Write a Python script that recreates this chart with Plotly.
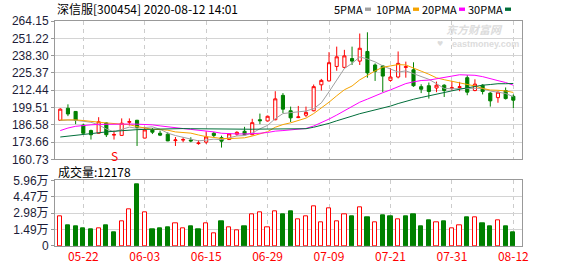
import plotly.graph_objects as go

# ---------------- data ----------------
dates = ["05-19","05-20","05-21","05-22","05-25","05-26","05-27","05-28","05-29",
         "06-01","06-02","06-03","06-04","06-05","06-08","06-09","06-10","06-11","06-12",
         "06-15","06-16","06-17","06-18","06-19","06-22","06-23","06-24","06-29","06-30",
         "07-01","07-02","07-03","07-06","07-07","07-08","07-09","07-10","07-13","07-14",
         "07-15","07-16","07-17","07-20","07-21","07-22","07-23","07-24","07-27","07-28",
         "07-29","07-30","07-31","08-03","08-04","08-05","08-06","08-07","08-10","08-11","08-12"]

opens = [190.0,199.0,196.6,186.4,182.3,180.3,188.0,178.9,178.7,188.5,
         190.0,176.7,182.8,180.3,179.6,174.8,175.2,175.2,172.6,173.7,
         180.3,177.0,175.6,179.6,181.8,179.2,190.4,189.5,190.4,208.6,
         197.1,192.0,193.8,197.1,216.5,219.4,230.2,229.5,236.1,234.2,
         241.4,231.3,230.6,219.8,222.3,229.5,227.7,215.1,215.8,214.1,
         216.2,213.8,214.5,221.8,212.2,216.2,210.3,206.9,212.2,207.9]
highs = [199.0,201.9,196.9,187.5,183.0,192.3,188.5,182.3,191.4,191.4,
         190.3,185.1,184.2,182.3,181.0,177.5,177.3,177.3,175.0,181.8,
         181.3,178.5,180.1,181.8,185.1,191.1,195.0,193.5,211.7,210.3,
         200.2,200.7,200.2,216.7,220.9,240.9,245.0,242.6,245.0,254.8,
         255.7,232.5,231.3,229.0,241.4,233.8,233.3,216.9,218.2,218.9,
         216.9,219.4,218.7,223.7,220.6,216.9,211.0,211.5,214.5,209.3]
lows = [189.5,193.1,187.1,180.0,175.6,180.0,177.5,175.6,178.5,186.1,
        170.8,176.5,179.7,178.2,174.4,170.8,173.6,173.6,171.7,172.3,
        177.2,169.6,175.3,178.4,178.8,178.8,187.1,189.0,190.0,195.4,
        188.7,191.6,192.4,196.7,212.2,219.0,227.0,228.7,231.3,231.3,
        221.8,219.4,211.0,218.8,221.3,221.8,215.0,210.3,206.2,211.0,
        207.4,212.2,211.7,208.7,211.7,209.3,200.2,203.1,205.5,199.0]
closes = [198.3,194.7,190.0,180.3,179.2,188.9,179.2,179.4,187.8,189.0,
          184.6,182.8,181.1,178.9,174.6,175.3,175.6,174.6,173.0,177.5,
          178.7,174.4,179.9,181.0,179.2,188.2,189.7,193.0,206.0,198.3,
          191.8,192.5,195.9,215.1,219.8,233.0,237.4,238.1,234.2,243.8,
          225.4,226.6,223.0,222.3,232.5,230.0,215.8,213.2,211.5,216.2,
          212.2,214.3,215.0,211.0,217.0,211.5,204.5,211.0,206.2,205.0]

ma5 = [189.8,190.2,190.0,189.2,188.5,186.6,183.5,181.4,182.9,184.9,
       184.0,184.7,185.1,183.3,180.4,178.6,177.1,175.8,174.6,175.2,
       175.9,175.6,176.7,178.3,178.6,180.5,183.6,186.2,191.2,195.0,
       195.7,196.3,196.9,198.7,203.0,211.3,220.2,228.7,232.5,237.3,
       235.8,233.6,230.6,228.2,226.0,226.9,224.7,222.8,220.6,217.3,
       213.8,213.5,213.8,213.7,213.9,213.8,211.8,211.0,210.0,207.6]
ma10 = [190.2,190.4,190.3,189.8,189.0,188.6,188.0,187.4,187.0,186.7,
        185.3,184.1,183.2,183.1,182.6,181.3,180.9,180.4,179.0,177.8,
        177.2,176.4,176.3,176.5,176.9,178.2,179.6,181.5,184.8,186.8,
        188.1,190.0,191.6,195.0,199.0,203.5,208.3,212.8,215.6,220.2,
        223.5,226.9,229.6,230.4,231.6,231.3,229.2,226.7,224.4,221.7,
        220.3,219.1,218.3,217.2,215.6,213.8,212.6,212.4,211.9,210.8]
ma20 = [182.3,184.2,185.5,186.2,186.6,186.9,187.1,187.2,187.2,187.2,
        187.1,187.0,186.6,185.8,185.0,184.4,183.8,183.2,182.7,182.3,
        181.3,180.3,179.8,179.8,179.8,179.8,180.3,180.9,181.9,182.3,
        182.7,183.2,183.9,185.7,188.0,190.9,193.9,197.1,200.2,203.5,
        205.8,208.4,210.6,212.7,215.3,217.4,218.7,219.7,220.0,220.9,
        221.9,223.0,224.0,223.8,223.6,222.6,220.9,219.6,218.2,216.2]
ma30 = [177.5,178.2,178.8,179.5,180.1,180.8,181.3,181.8,182.3,182.7,
        183.0,183.2,183.4,183.6,183.7,183.8,183.8,183.7,183.6,183.5,
        183.4,183.3,183.3,183.2,183.2,183.3,183.4,183.5,183.6,183.8,
        183.6,183.5,183.7,184.8,186.2,187.7,189.6,191.6,193.1,194.9,
        196.3,197.8,199.2,200.6,202.5,204.3,205.7,207.0,208.3,209.5,
        210.7,212.0,213.2,214.2,215.4,216.2,216.7,217.3,217.3,217.5]

# volume in 万 (10k)
volumes = [2.68,1.89,1.75,1.57,1.48,1.63,1.89,1.22,2.24,3.29,
           5.58,3.03,1.48,1.57,1.66,2.07,1.63,1.81,1.48,2.07,
           1.11,2.27,1.72,1.46,1.83,2.85,3.03,1.72,3.14,2.88,
           3.14,2.42,2.68,3.64,2.16,3.46,2.24,2.85,2.71,3.55,
           2.62,2.16,2.79,2.71,2.42,2.71,2.88,1.83,2.36,2.16,
           2.27,1.57,1.89,2.62,2.62,2.09,1.75,2.36,1.75,1.2178]
vol_up = [1,0,0,0,0,1,0,0,1,1,0,1,0,0,0,1,1,0,0,1,
          1,0,1,1,0,1,1,1,1,0,0,1,1,1,1,1,1,1,0,1,
          0,1,0,0,1,0,0,0,0,1,0,1,1,0,1,0,0,1,0,0]

tick_dates = ["05-22","06-03","06-15","06-29","07-09","07-21","07-31","08-12"]
price_ticks = [160.73,173.66,186.58,199.51,212.44,225.37,238.30,251.22,264.15]
vol_ticks = [0,1.49,2.98,4.47,5.96]
vol_tick_text = ["0","1.49万","2.98万","4.47万","5.96万"]
ma_names = ["5PMA","10PMA","20PMA","30PMA"]
last_volume_text = "12178"
marker_index = 7

# ---------------- styling ----------------
RED = "#ff0000"
GREEN = "#008000"
MA_COLORS = ["#a0a0a0", "#f5a300", "#ff00ff", "#006e3a"]
W, H = 578, 276
L, R, T, B = 55, 56, 21, 21
PW, PH = W - L - R, H - T - B
CJK = "Noto Sans CJK SC"
NUMF = "Liberation Sans, Noto Sans CJK SC"

def px(xp):
    return (xp - L) / PW

def py(yp):
    return (H - B - yp) / PH

x = list(range(len(dates)))
xr = [-0.685, len(dates) + 0.13]
tickvals = [dates.index(d) for d in tick_dates]

fig = go.Figure()

fig.add_trace(go.Candlestick(
    x=x, open=opens, high=highs, low=lows, close=closes,
    increasing=dict(line=dict(color=RED, width=1), fillcolor="white"),
    decreasing=dict(line=dict(color=GREEN, width=1), fillcolor=GREEN),
    whiskerwidth=0, xaxis="x", yaxis="y", hoverinfo="skip", showlegend=False))

for name, vals, col in zip(ma_names, [ma5, ma10, ma20, ma30], MA_COLORS):
    fig.add_trace(go.Scatter(x=x, y=vals, mode="lines", line=dict(color=col, width=1),
                             xaxis="x", yaxis="y", name=name, showlegend=False,
                             hoverinfo="skip"))

fig.add_trace(go.Bar(
    x=x, y=volumes, width=0.55,
    marker=dict(color=["white" if u else GREEN for u in vol_up],
                line=dict(color=[RED if u else GREEN for u in vol_up], width=1)),
    xaxis="x2", yaxis="y2", showlegend=False, hoverinfo="skip"))

grid_h = "#d4d4d4"
grid_v = "#cccccc"
border = "#999999"
axfont = dict(family=NUMF, size=12, color="#1c1c38")

fig.update_layout(
    width=W, height=H,
    margin=dict(l=L, r=R, t=T, b=B, pad=0),
    paper_bgcolor="white", plot_bgcolor="white",
    boxgap=0.42,
    bargap=0,
    showlegend=False,
    xaxis=dict(domain=[0, 1], range=xr, anchor="y", showticklabels=False,
               tickvals=tickvals, showgrid=True, gridcolor=grid_v, griddash="4px,4px",
               gridwidth=1, showline=True, mirror=True, linecolor=border, linewidth=1,
               zeroline=False, ticks="", rangeslider=dict(visible=False), fixedrange=True),
    yaxis=dict(domain=[1 - 144 / PH, 1], range=[price_ticks[0], price_ticks[-1]],
               tickvals=price_ticks, ticktext=[f"{v:.2f}" for v in price_ticks],
               showgrid=True, gridcolor=grid_h, gridwidth=1, showline=True, mirror=True,
               linecolor=border, linewidth=1, zeroline=False, ticks="outside",
               ticklen=3, tickcolor=border, tickfont=axfont, fixedrange=True),
    xaxis2=dict(domain=[0, 1], range=xr, anchor="y2", tickvals=tickvals,
                ticktext=tick_dates, tickfont=dict(family=CJK, size=12, color=RED),
                showgrid=True, gridcolor=grid_v, griddash="4px,4px", gridwidth=1,
                showline=True, mirror=True, linecolor=border, linewidth=1,
                zeroline=False, ticks="", fixedrange=True),
    yaxis2=dict(domain=[0, 68.3 / PH], range=[vol_ticks[0], vol_ticks[-1]],
                tickvals=vol_ticks, ticktext=vol_tick_text, showgrid=True,
                gridcolor=grid_h, gridwidth=1, showline=True, mirror=True,
                linecolor=border, linewidth=1, zeroline=False, ticks="outside",
                ticklen=3, tickcolor=border, tickfont=axfont, fixedrange=True),
)

ann = []
shapes = []
ann.append(dict(xref="paper", yref="paper", x=0, y=py(8.5), xanchor="left", yanchor="middle",
                text="深信服[300454] 2020-08-12 14:01", showarrow=False,
                font=dict(family=CJK, size=12, color="#000000")))
leg_box_x = [365, 413, 459, 505]
for name, col, bx in zip(ma_names, MA_COLORS, leg_box_x):
    ann.append(dict(xref="paper", yref="paper", x=px(bx - 1), y=py(8.5), xanchor="right",
                    yanchor="middle", text=name, showarrow=False, borderpad=0,
                    font=dict(family=CJK, size=11, color="#000000")))
    shapes.append(dict(type="rect", xref="paper", yref="paper", x0=px(bx), x1=px(bx + 6),
                       y0=py(10.5), y1=py(7), fillcolor=col, line=dict(width=0)))
ann.append(dict(xref="paper", yref="paper", x=px(56), y=py(178), xanchor="left",
                yanchor="middle", text="成交量:" + last_volume_text, showarrow=False,
                font=dict(family=CJK, size=12, color="#000000")))
# watermark
ann.append(dict(xref="paper", yref="paper", x=px(474), y=py(29.5), xanchor="center",
                yanchor="middle", text="<b><i>东方财富网</i></b>", showarrow=False,
                borderpad=0, font=dict(family=CJK, size=11, color="#dcdcdc")))
ann.append(dict(xref="paper", yref="paper", x=px(485), y=py(45), xanchor="center",
                yanchor="middle", text="<b>eastmoney.com</b>", showarrow=False,
                borderpad=0, font=dict(family="Liberation Sans", size=9, color="#dcdcdc")))
ann.append(dict(xref="paper", yref="paper", x=px(440), y=py(45), xanchor="center",
                yanchor="middle", text="♥", showarrow=False, borderpad=0,
                font=dict(family="DejaVu Sans", size=7, color="#dcdcdc")))
# event marker
ann.append(dict(xref="x", yref="y", x=marker_index, y=171.0, text="S", showarrow=True,
                arrowhead=0, arrowwidth=1, arrowcolor=RED, ax=0, ay=10,
                font=dict(family=CJK, size=12, color=RED)))

fig.update_layout(annotations=ann, shapes=shapes)
fig.write_html("out.html")
